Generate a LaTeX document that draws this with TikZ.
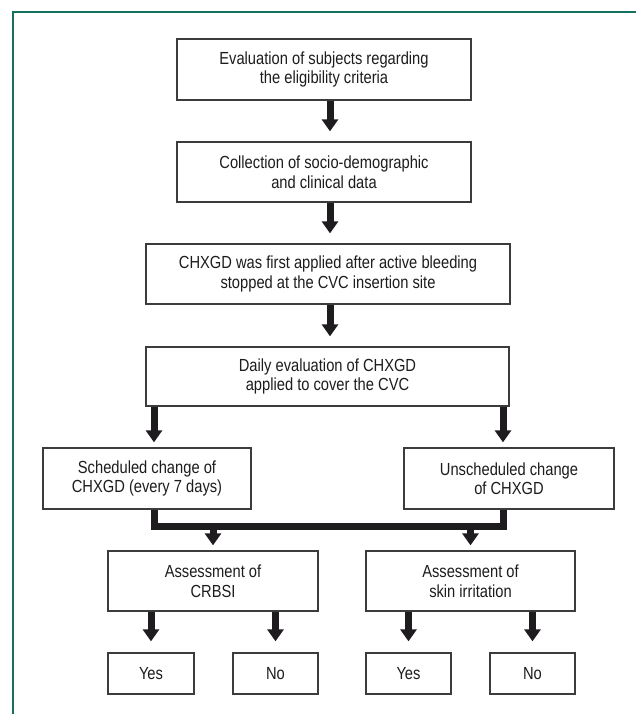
\documentclass[tikz,border=0pt]{standalone}
\usepackage{fontspec}
\setmainfont{Liberation Sans}[FakeStretch=0.84]
\usetikzlibrary{arrows.meta}
\definecolor{framecol}{RGB}{22,112,96}
\definecolor{boxline}{RGB}{60,60,60}
\definecolor{ink}{RGB}{30,28,30}
\tikzset{
  box/.style={draw=boxline, line width=1.3pt, fill=white, align=center, inner sep=0pt,
    font=\fontsize{17.5}{19.5}\selectfont, text=ink},
  flowarrow/.style={draw=ink, line width=7pt, -{Triangle[width=16pt,length=12pt]}},
  mergeline/.style={draw=ink, line width=7pt, line join=miter},
}
\begin{document}
\begin{tikzpicture}[x=1pt,y=-1pt]
\useasboundingbox (0,0) rectangle (636,714);
\fill[white] (0,0) rectangle (636,714);
\draw[framecol, line width=2pt] (13,714) -- (13,12) -- (636,12);

\node[box, minimum width=294pt, minimum height=61pt] (b1) at (324,69.5) {Evaluation of subjects regarding\\the eligibility criteria};
\node[box, minimum width=294pt, minimum height=60pt] (b2) at (324,172) {Collection of socio-demographic\\and clinical data};
\node[box, minimum width=364pt, minimum height=60pt] (b3) at (328,274) {CHXGD was first applied after active bleeding\\stopped at the CVC insertion site};
\node[box, minimum width=363pt, minimum height=59pt] (b4) at (327.5,376.5) {Daily evaluation of CHXGD\\applied to cover the CVC};
\node[box, minimum width=208pt, minimum height=61pt] (b5) at (147,478.5) {Scheduled change of\\CHXGD (every 7 days)};
\node[box, minimum width=210pt, minimum height=61pt] (b6) at (509,478.5) {Unscheduled change\\of CHXGD};
\node[box, minimum width=210pt, minimum height=60pt] (b7) at (213,581) {Assessment of\\CRBSI};
\node[box, minimum width=209pt, minimum height=60pt] (b8) at (470.5,581) {Assessment of\\skin irritation};
\node[box, minimum width=86pt, minimum height=41pt] (y1) at (151,673.5) {Yes};
\node[box, minimum width=85pt, minimum height=41pt] (n1) at (275.5,673.5) {No};
\node[box, minimum width=85pt, minimum height=41pt] (y2) at (408.5,673.5) {Yes};
\node[box, minimum width=85pt, minimum height=41pt] (n2) at (532.5,673.5) {No};

% arrow columns
\coordinate (cmain) at (330,0);
\coordinate (cl) at (154,0);
\coordinate (cr) at (503,0);
\coordinate (mrow) at (0,526);

\draw[flowarrow, shorten >=10pt] (b1.south -| cmain) -- (b2.north -| cmain);
\draw[flowarrow, shorten >=10pt] (b2.south -| cmain) -- (b3.north -| cmain);
\draw[flowarrow, shorten >=10pt] (b3.south -| cmain) -- (b4.north -| cmain);
\draw[flowarrow, shorten >=5pt] (b4.south -| cl) -- (b5.north -| cl);
\draw[flowarrow, shorten >=5pt] (b4.south -| cr) -- (b6.north -| cr);

\draw[mergeline] (b5.south -| cl) -- (mrow -| cl) -- (mrow -| cr) -- (b6.south -| cr);
\draw[flowarrow, shorten >=5pt] (mrow -| b7.north) -- (b7.north);
\draw[flowarrow, shorten >=5pt] (mrow -| b8.north) -- (b8.north);

\draw[flowarrow, shorten >=11pt] (b7.south -| y1.north) -- (y1.north);
\draw[flowarrow, shorten >=11pt] (b7.south -| n1.north) -- (n1.north);
\draw[flowarrow, shorten >=11pt] (b8.south -| y2.north) -- (y2.north);
\draw[flowarrow, shorten >=11pt] (b8.south -| n2.north) -- (n2.north);
\end{tikzpicture}
\end{document}
